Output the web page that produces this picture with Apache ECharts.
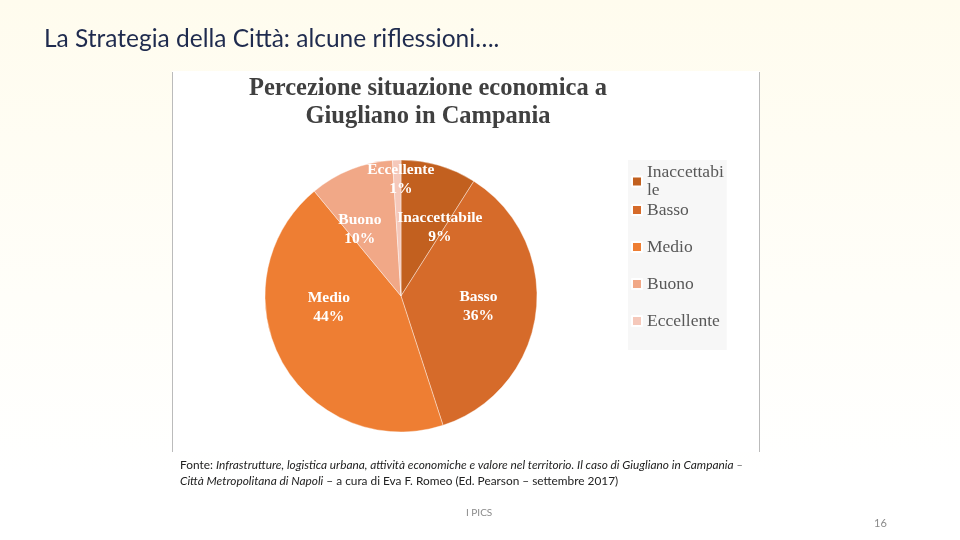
<!DOCTYPE html>
<html>
<head>
<meta charset="utf-8">
<script src="https://cdn.jsdelivr.net/npm/echarts@6/dist/echarts.min.js"></script>
<style>
html,body{margin:0;padding:0;background:#fff;}
#main{width:960px;height:540px;}
</style>
</head>
<body>
<div id="main"></div>
<script>
// Data
const categories = ['Inaccettabile', 'Basso', 'Medio', 'Buono', 'Eccellente'];
const values = [9, 36, 44, 10, 1];
const colors = ['#C2601F', '#D66B2A', '#EE7E33', '#F1A887', '#F5C8BA'];
const chartTitle = 'Percezione situazione economica a\nGiugliano in Campania';
const slideTitle = 'La Strategia della Città: alcune riflessioni….';
const pageNumber = '16';
const footerMark = 'I PICS';

// label nudges (layout only)
const labelNudge = [[19, 0], [7, 2], [-10, -23], [-15, 0], [2, -46]];

const chart = echarts.init(document.getElementById('main'));

const option = {
  animation: false,
  backgroundColor: 'transparent',
  title: {
    text: chartTitle,
    left: 428,
    textAlign: 'center',
    top: 75,
    padding: 0,
    textStyle: {
      fontFamily: 'Liberation Serif',
      fontWeight: 'bold',
      fontSize: 24.5,
      lineHeight: 28,
      color: '#404040'
    }
  },
  legend: {
    orient: 'vertical',
    left: 628,
    top: 160,
    padding: [3.5, 3, 2.5, 3],
    backgroundColor: '#F7F7F7',
    itemWidth: 10,
    itemHeight: 10,
    itemGap: -16,
    icon: 'rect',
    data: categories.map((c, i) => i === 0 ? { name: c, textStyle: { lineHeight: 18 } } : { name: c }),
    formatter: function (name) {
      return name === 'Inaccettabile' ? 'Inaccettabi\nle' : name;
    },
    textStyle: {
      fontFamily: 'Liberation Serif',
      fontSize: 17.5,
      lineHeight: 53,
      color: '#585858'
    }
  },
  graphic: [
    {
      type: 'rect', z: -10, silent: true,
      shape: { x: 0, y: 0, width: 960, height: 540 },
      style: {
        fill: new echarts.graphic.LinearGradient(0, 0, 0, 1, [
          { offset: 0, color: '#FFFCEE' },
          { offset: 0.55, color: '#FFFEF9' },
          { offset: 0.88, color: '#FFFFFF' },
          { offset: 1, color: '#FFFFFF' }
        ])
      }
    },
    {
      type: 'rect', z: -9, silent: true,
      shape: { x: 172, y: 71, width: 588, height: 381 },
      style: { fill: '#FFFFFF' }
    },
    {
      type: 'line', z: -8, silent: true,
      shape: { x1: 172.5, y1: 72, x2: 172.5, y2: 452 },
      style: { stroke: '#BBBBBB', lineWidth: 1 }
    },
    {
      type: 'line', z: -8, silent: true,
      shape: { x1: 759.5, y1: 72, x2: 759.5, y2: 452 },
      style: { stroke: '#BBBBBB', lineWidth: 1 }
    },
    {
      type: 'text', left: 44, top: 27,
      style: {
        text: slideTitle,
        fontFamily: 'Lato',
        fontSize: 24.5,
        fill: '#1F2B4E'
      }
    },
    {
      type: 'text', left: 180, top: 459,
      style: {
        text: '{n|Fonte: }{i|Infrastrutture, logistica urbana, attività economiche e valore nel territorio. Il caso di Giugliano in Campania –}\n{i|Città Metropolitana di Napoli}{n| – a cura di Eva F. Romeo (Ed. Pearson – settembre 2017)}',
        rich: {
          n: { fontFamily: 'Lato', fontSize: 11.85, fill: '#222222', lineHeight: 16 },
          i: { fontFamily: 'Lato', fontSize: 11.85, fontStyle: 'italic', fill: '#222222', lineHeight: 16 }
        }
      }
    },
    {
      type: 'text', left: 466, top: 508,
      style: { text: footerMark, fontFamily: 'Lato', fontSize: 10, fill: '#8A8A8A' }
    },
    {
      type: 'text', left: 874, top: 518,
      style: { text: pageNumber, fontFamily: 'Lato', fontSize: 11, fill: '#8A8A8A' }
    }
  ],
  series: [
    {
      type: 'pie',
      center: [401, 296],
      radius: 136,
      startAngle: 90,
      clockwise: true,
      color: colors,
      itemStyle: { borderColor: '#FFFFFF', borderWidth: 0.4 },
      label: {
        show: true,
        position: 'inside',
        formatter: '{b}\n{c}%',
        fontFamily: 'Liberation Serif',
        fontWeight: 'bold',
        fontSize: 15.5,
        lineHeight: 19,
        color: '#FFFFFF',
        textBorderWidth: 0
      },
      labelLayout: function (params) {
        const n = labelNudge[params.dataIndex] || [0, 0];
        return { dx: n[0], dy: n[1] };
      },
      emphasis: { disabled: true },
      data: categories.map((c, i) => ({ name: c, value: values[i] }))
    }
  ]
};

chart.setOption(option);
</script>
</body>
</html>
